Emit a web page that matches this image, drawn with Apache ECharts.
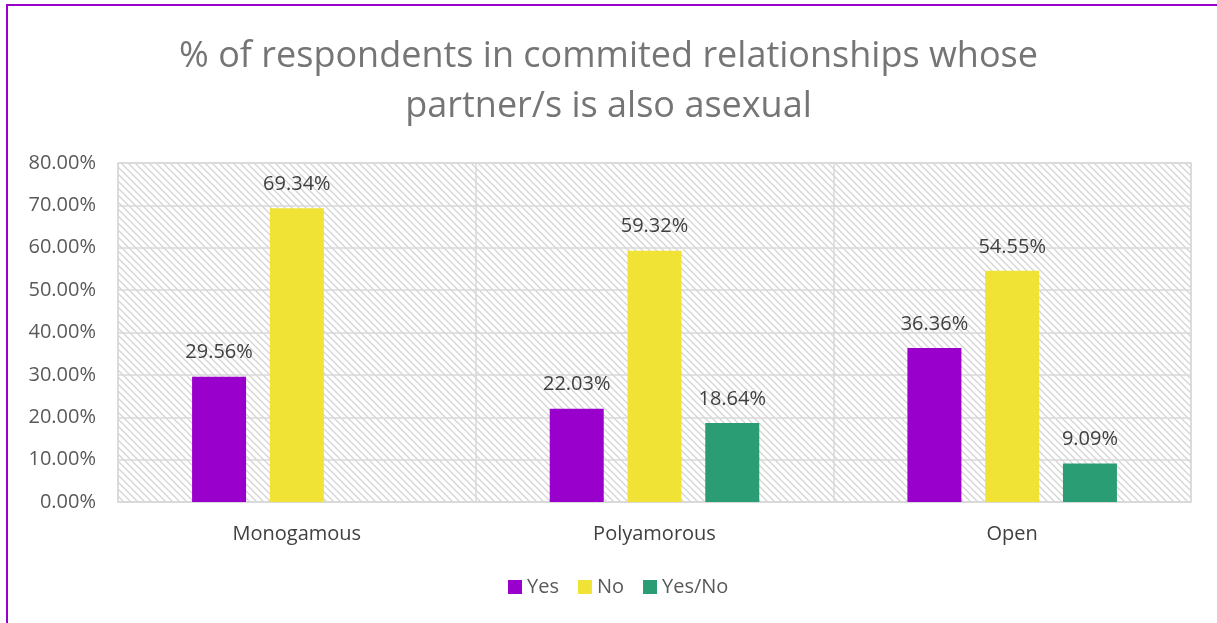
<!DOCTYPE html>
<html>
<head>
<meta charset="utf-8">
<script src="https://cdn.jsdelivr.net/npm/echarts@6/dist/echarts.min.js"></script>
<style>
  html, body { margin: 0; padding: 0; background: #fff; }
  #frame { position: absolute; left: 6px; top: 4px; width: 1300px; height: 700px;
           border-left: 2px solid #9900cc; border-top: 2px solid #9900cc; }
  #chart { position: absolute; left: 0; top: 0; width: 1217px; height: 623px; }
</style>
</head>
<body>
<div id="frame"></div>
<div id="chart"></div>
<script>
// Relationship types and share of respondents per partner answer
const categories = ['Monogamous', 'Polyamorous', 'Open'];
const yesValues = [29.56, 22.03, 36.36];
const noValues = [69.34, 59.32, 54.55];
const yesNoValues = [null, 18.64, 9.09];
const seriesNames = ['Yes', 'No', 'Yes/No'];
const seriesColors = ['#9900cc', '#f0e336', '#2a9d74'];

// Diagonal hatch tile for the plot background
function hatchTile() {
  const c = document.createElement('canvas');
  c.width = 7; c.height = 7;
  const g = c.getContext('2d');
  g.fillStyle = '#ffffff';
  g.fillRect(0, 0, 7, 7);
  g.strokeStyle = '#d4d4d4';
  g.lineWidth = 1.3;
  g.beginPath();
  g.moveTo(-1, -1); g.lineTo(8, 8);
  g.moveTo(-8, -1); g.lineTo(1, 8);
  g.moveTo(6, -1); g.lineTo(15, 8);
  g.stroke();
  return c;
}

const font = '"Open Sans", Lato, sans-serif';
const chart = echarts.init(document.getElementById('chart'));

function barSeries(i, values) {
  return {
    name: seriesNames[i],
    type: 'bar',
    data: values.map(v => v === null ? '-' : v),
    barWidth: 54,
    barGap: '44%',
    itemStyle: { color: seriesColors[i] },
    label: {
      show: true,
      position: 'top',
      distance: 14,
      color: '#404040',
      fontSize: 20,
      fontFamily: font,
      formatter: p => p.value.toFixed(2) + '%'
    }
  };
}

chart.setOption({
  animation: false,
  title: {
    text: '% of respondents in commited relationships whose\npartner/s is also asexual',
    left: 'center',
    top: 27,
    textStyle: { color: '#757575', fontSize: 36, fontWeight: 'normal', fontFamily: font, lineHeight: 50 }
  },
  legend: {
    data: seriesNames,
    bottom: 21,
    left: 503,
    icon: 'rect',
    itemWidth: 14,
    itemHeight: 14,
    itemGap: 19,
    textStyle: { color: '#595959', fontSize: 20, fontFamily: font }
  },
  grid: {
    left: 118, right: 26, top: 163, bottom: 121,
    show: true,
    backgroundColor: { image: hatchTile(), repeat: 'repeat' },
    borderColor: '#d9d9d9',
    borderWidth: 1.5
  },
  xAxis: {
    type: 'category',
    data: categories,
    axisLine: { lineStyle: { color: '#d9d9d9', width: 1.5 } },
    axisTick: { show: false },
    splitLine: { show: true, lineStyle: { color: '#d9d9d9', width: 1.5 } },
    axisLabel: { color: '#404040', fontSize: 20, fontFamily: font, margin: 22 }
  },
  yAxis: {
    type: 'value',
    min: 0, max: 80, interval: 10,
    axisLine: { show: false },
    axisTick: { show: false },
    splitLine: { lineStyle: { color: '#d9d9d9', width: 1.5 } },
    axisLabel: { color: '#595959', fontSize: 20, fontFamily: font, margin: 22,
                 formatter: v => v.toFixed(2) + '%' }
  },
  series: [barSeries(0, yesValues), barSeries(1, noValues), barSeries(2, yesNoValues)]
});
</script>
</body>
</html>
